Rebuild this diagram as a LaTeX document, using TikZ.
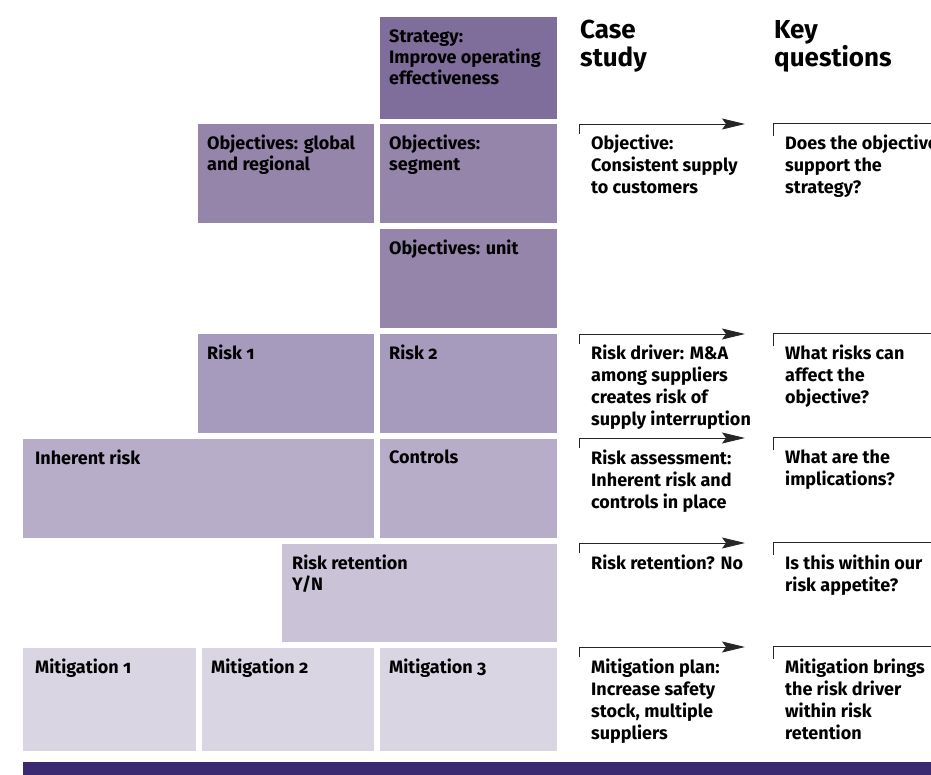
\documentclass[tikz,border=0pt]{standalone}
\usepackage{fontspec}
\setmainfont[Numbers=OldStyle]{Fira Sans}
\usetikzlibrary{arrows.meta}
\definecolor{strat}{HTML}{7F6E9B}
\definecolor{obj}{HTML}{9585AA}
\definecolor{risk}{HTML}{A69BBC}
\definecolor{inh}{HTML}{B7ADC9}
\definecolor{ret}{HTML}{CAC3D8}
\definecolor{mit}{HTML}{DAD5E3}
\definecolor{bar}{HTML}{3B2A72}

\begin{document}
\begin{tikzpicture}[x=1pt, y=-1pt, >={Stealth[length=23pt, width=11pt, inset=4pt]},
    box/.style = {anchor=north west, fill=#1, inner sep=0, minimum height=99},
    tag/.style = {anchor=north west, align=left, inner sep=0, xshift=9, yshift=-11,
      font=\fontsize{18}{21}\selectfont\bfseries},
    note/.style = {anchor=north west, align=left, inner sep=0,
      font=\fontsize{18}{22}\selectfont\bfseries},
    head/.style = {anchor=north west, align=left, inner sep=0,
      font=\fontsize{26}{28}\selectfont\bfseries},
    arr/.style = {->, line width=0.9pt, black!85},
    tick/.style = {line width=0.9pt, black!85}]
    \useasboundingbox (0,0) rectangle (931,775);
    \clip (0,0) rectangle (931,775);
    % Boxes

    \node[box=strat, minimum width=177, minimum height=102] (strategy) at (380,17) {};
    \node[box=obj, minimum width=176] (objglob) at (198,124) {};
    \node[box=obj, minimum width=177] (objseg) at (380,124) {};
    \node[box=obj, minimum width=177] (objunit) at (380,229) {};
    \node[box=risk, minimum width=176] (risk1) at (198,334) {};
    \node[box=risk, minimum width=177] (risk2) at (380,334) {};
    \node[box=inh, minimum width=351] (inherent) at (23,439) {};
    \node[box=inh, minimum width=177] (controls) at (380,439) {};
    \node[box=ret, minimum width=275, minimum height=98] (retention) at (282,544) {};
    \node[box=mit, minimum width=173, minimum height=103] (mit1) at (23,648) {};
    \node[box=mit, minimum width=172, minimum height=103] (mit2) at (202,648) {};
    \node[box=mit, minimum width=177, minimum height=103] (mit3) at (380,648) {};
    \fill[bar] (23,762) rectangle (931,775);

    \node[tag, yshift=-2] at (strategy.north west) {Strategy:\\Improve operating\\effectiveness};
    \node[tag] at (objglob.north west) {Objectives: global\\and regional};
    \node[tag] at (objseg.north west) {Objectives:\\segment};
    \node[tag] at (objunit.north west) {Objectives: unit};
    \node[tag] at (risk1.north west) {Risk 1};
    \node[tag] at (risk2.north west) {Risk 2};
    \node[tag, xshift=3] at (inherent.north west) {Inherent risk};
    \node[tag] at (controls.north west) {Controls};
    \node[tag, xshift=1] at (retention.north west) {Risk retention\\Y/N};
    \node[tag, xshift=3] at (mit1.north west) {Mitigation 1};
    \node[tag] at (mit2.north west) {Mitigation 2};
    \node[tag] at (mit3.north west) {Mitigation 3};

    % Columns
    \node[head] (case) at (580,20) {Case\\study};
    \node[head] (key) at (774,20) {Key\\questions};

    \node[note] (cs1) at (591,135) {Objective:\\Consistent supply\\to customers};
    \node[note] (cs2) at (591,345) {Risk driver: M\&A\\among suppliers\\creates risk of\\supply interruption};
    \node[note] (cs3) at (591,450) {Risk assessment:\\Inherent risk and\\controls in place};
    \node[note] (cs4) at (591,555) {Risk retention? No};
    \node[note] (cs5) at (591,659) {Mitigation plan:\\Increase safety\\stock, multiple\\suppliers};

    \node[note] (kq1) at (785,135) {Does the objective\\support the\\strategy?};
    \node[note] (kq2) at (785,345) {What risks can\\affect the\\objective?};
    \node[note] (kq3) at (785,450) {What are the\\implications?};
    \node[note] (kq4) at (785,555) {Is this within our\\risk appetite?};
    \node[note] (kq5) at (785,659) {Mitigation brings\\the risk driver\\within risk\\retention};

    % Edges
    \foreach \i/\y in {1/124, 2/334, 3/438, 4/543, 5/647} {
      \coordinate (a\i) at (579,\y);
      \coordinate (t\i) at (745,\y);
      \coordinate (k\i) at (773,\y-1);
      \coordinate (e\i) at (940,\y-1);
      \draw[arr] ([yshift=-10]a\i) -- (a\i) -- (t\i);
      \draw[tick] ([yshift=-13]k\i) -- (k\i) -- (e\i);
    }

\end{tikzpicture}
\end{document}
